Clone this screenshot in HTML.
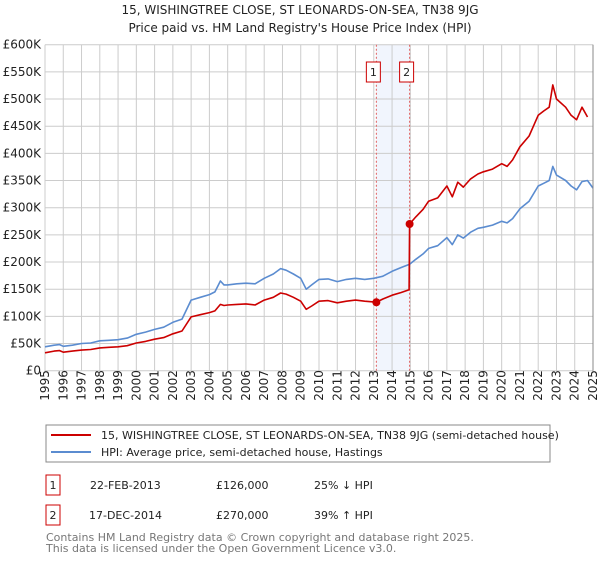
<!DOCTYPE html>
<html><head><meta charset="utf-8"><style>
body{margin:0;background:#fff;font-family:"DejaVu Sans","Liberation Sans",sans-serif;}
svg text{font-family:"DejaVu Sans","Liberation Sans",sans-serif;}
</style></head><body>
<svg id="c" width="600" height="560" xmlns="http://www.w3.org/2000/svg">
<rect width="600" height="560" fill="#fff"/>
<text x="300" y="14" text-anchor="middle" font-size="12" fill="#222">15, WISHINGTREE CLOSE, ST LEONARDS-ON-SEA, TN38 9JG</text>
<text x="300" y="32" text-anchor="middle" font-size="12" fill="#222">Price paid vs. HM Land Registry's House Price Index (HPI)</text>
<g id="grid"></g><g id="marks"></g><g id="axes"></g>
<g>
<rect x="46" y="425" width="504" height="37" fill="#fff" stroke="#888" stroke-width="1"/>
<line x1="51" y1="435" x2="91" y2="435" stroke="#cc0000" stroke-width="2"/>
<text x="101" y="439" font-size="11" fill="#222">15, WISHINGTREE CLOSE, ST LEONARDS-ON-SEA, TN38 9JG (semi-detached house)</text>
<line x1="51" y1="452" x2="91" y2="452" stroke="#5b8cd0" stroke-width="2"/>
<text x="101" y="456" font-size="11" fill="#222">HPI: Average price, semi-detached house, Hastings</text>
</g>
<g font-size="11" fill="#222">
<rect x="46" y="475" width="14" height="20" fill="#fff" stroke="#cc0000"/>
<text x="53" y="489" text-anchor="middle">1</text>
<text x="90" y="489">22-FEB-2013</text><text x="216" y="489">£126,000</text><text x="314" y="489">25% ↓ HPI</text>
<rect x="46" y="505" width="14" height="20" fill="#fff" stroke="#cc0000"/>
<text x="53" y="519" text-anchor="middle">2</text>
<text x="89" y="519">17-DEC-2014</text><text x="216" y="519">£270,000</text><text x="314" y="519">39% ↑ HPI</text>
</g>
<text x="46" y="541" font-size="11" fill="#777">Contains HM Land Registry data © Crown copyright and database right 2025.</text>
<text x="46" y="552" font-size="11" fill="#777">This data is licensed under the Open Government Licence v3.0.</text>
</svg>
<script>
const yTicks=[0,50,100,150,200,250,300,350,400,450,500,550,600];
const yTickLabels=["£0","£50K","£100K","£150K","£200K","£250K","£300K","£350K","£400K","£450K","£500K","£550K","£600K"];
const xYears=[1995,1996,1997,1998,1999,2000,2001,2002,2003,2004,2005,2006,2007,2008,2009,2010,2011,2012,2013,2014,2015,2016,2017,2018,2019,2020,2021,2022,2023,2024,2025];
const hpiT=[1995,1995.5,1995.8,1996,1996.5,1997,1997.5,1998,1998.5,1999,1999.5,2000,2000.5,2001,2001.5,2002,2002.5,2003,2003.5,2004,2004.3,2004.6,2004.8,2005,2005.5,2006,2006.5,2007,2007.5,2007.9,2008.2,2008.6,2009,2009.3,2009.6,2010,2010.5,2011,2011.5,2012,2012.5,2013,2013.5,2014,2014.5,2014.96,2015.3,2015.7,2016,2016.5,2017,2017.3,2017.6,2017.9,2018.3,2018.7,2019,2019.5,2020,2020.3,2020.6,2021,2021.5,2022,2022.3,2022.6,2022.8,2023,2023.5,2023.8,2024.1,2024.4,2024.7,2025];
const hpiV=[44,47,48,45,47,50,51,55,56,57,60,67,71,76,80,89,95,130,135,140,145,165,158,158,160,161,160,170,178,188,185,178,170,150,158,168,169,164,168,170,168,170,174,183,190,196,205,215,225,230,245,232,250,244,255,262,264,268,275,272,280,298,312,340,345,350,376,360,350,340,333,348,350,336];
const paidT=[1995,1995.5,1995.8,1996,1996.5,1997,1997.5,1998,1998.5,1999,1999.5,2000,2000.5,2001,2001.5,2002,2002.5,2003,2003.5,2004,2004.3,2004.6,2004.8,2005,2005.5,2006,2006.5,2007,2007.5,2007.9,2008.2,2008.6,2009,2009.3,2009.6,2010,2010.5,2011,2011.5,2012,2012.5,2013.14,2013.5,2014,2014.5,2014.93,2014.96,2015.3,2015.7,2016,2016.5,2017,2017.3,2017.6,2017.9,2018.3,2018.7,2019,2019.5,2020,2020.3,2020.6,2021,2021.5,2022,2022.3,2022.6,2022.8,2023,2023.5,2023.8,2024.1,2024.4,2024.7,2025];
const paidV=[33,36,37,34,36,38,39,42,43,44,46,51,54,58,61,68,73,99,103,107,110,122,120,121,122,123,121,130,135,143,141,135,128,113,119,128,129,125,128,130,128,126,132,139,144,149,270,283,297,312,318,340,320,347,338,353,362,366,371,381,376,388,412,432,470,478,485,526,500,485,470,462,485,467];
const sales=[{t:2013.14,v:126,n:"1"},{t:2014.96,v:270,n:"2"}];
const L=45,R=593,T=44.7,B=370.7;
const xs=t=>L+(t-1995)/30*(R-L);
const ys=v=>B-v/600*(B-T);
const NS="http://www.w3.org/2000/svg";
function mk(tag,attrs,parent){const e=document.createElementNS(NS,tag);for(const k in attrs)e.setAttribute(k,attrs[k]);parent.appendChild(e);return e;}
const grid=document.getElementById('grid'),marks=document.getElementById('marks'),axes=document.getElementById('axes');
mk('rect',{x:L,y:T,width:R-L,height:B-T,fill:'#fff'},grid);
const band=mk('rect',{x:xs(sales[0].t),y:T,width:xs(sales[1].t)-xs(sales[0].t),height:B-T,fill:'#eef3fc',opacity:0.8},grid);


yTicks.forEach((v,i)=>{
 const l=mk('line',{x1:L,x2:R,y1:ys(v),y2:ys(v),stroke:'#ccc','stroke-width':1},grid);
 
 
 const t=mk('text',{x:L-4,y:ys(v)+4,'text-anchor':'end','font-size':12,fill:'#222'},axes);
 t.textContent=yTickLabels[i];
 
 
});
xYears.forEach(y=>{
 const l=mk('line',{x1:xs(y),x2:xs(y),y1:T,y2:B,stroke:'#ccc','stroke-width':1},grid);
 
 
 const t=mk('text',{transform:`translate(${xs(y)+4},${B+30}) rotate(-90)`,'font-size':12,fill:'#222'},axes);
 t.textContent=String(y);
 
 
});
mk('line',{x1:R,x2:R,y1:T,y2:B,stroke:'#888'},axes);
sales.forEach(s=>{
 const d=mk('line',{x1:xs(s.t),x2:xs(s.t),y1:T,y2:B,stroke:'#e06060','stroke-width':1,'stroke-dasharray':'2,2'},marks);
 
 
 const g=mk('g',{},marks);
 
 
 mk('rect',{x:xs(s.t)-10,y:62,width:14,height:20,fill:'#fff',stroke:'#cc0000'},g);
 const tx=mk('text',{x:xs(s.t)-3,y:76,'text-anchor':'middle','font-size':11,fill:'#222'},g);
 tx.textContent=s.n;
});
function path(T_,V_,color,name){
 const d=T_.map((t,i)=>(i?'L':'M')+xs(t).toFixed(1)+','+ys(V_[i]).toFixed(1)).join('');
 const p=mk('path',{d:d,fill:'none',stroke:color,'stroke-width':1.6,'stroke-linejoin':'round'},marks);
 
 
}
path(hpiT,hpiV,'#5b8cd0','hpi-line');
path(paidT,paidV,'#cc0000','price-paid-line');
sales.forEach(s=>{
 const c=mk('circle',{cx:xs(s.t),cy:ys(s.v),r:4,fill:'#cc0000'},marks);
 
 
});
</script>
</body></html>
